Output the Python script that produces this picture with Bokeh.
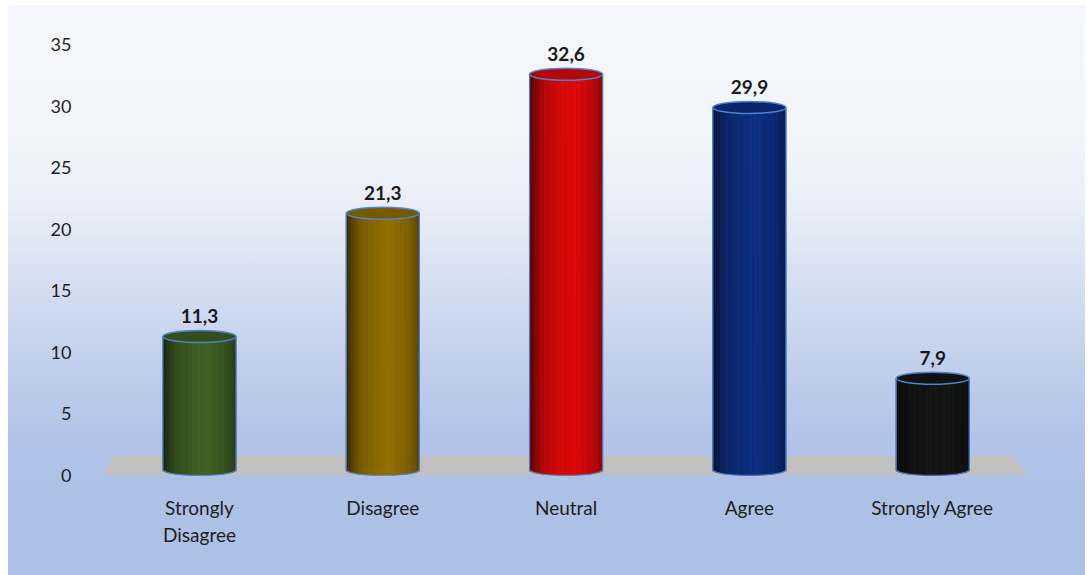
import numpy as np
from bokeh.plotting import figure
from bokeh.models import Range1d, FixedTicker, ColumnDataSource
from bokeh.core.properties import value
from bokeh.embed import file_html
from bokeh.resources import INLINE

# ---------------- data ----------------
categories = ["Strongly\nDisagree", "Disagree", "Neutral", "Agree", "Strongly Agree"]
values = [11.3, 21.3, 32.6, 29.9, 7.9]
bar_colors = ["#3c5c22", "#8c6a00", "#d40808", "#0c2c7c", "#141414"]
y_ticks = [0, 5, 10, 15, 20, 25, 30, 35]

# ---------------- layout constants ----------------
W, H = 1077, 570
BL, BR, BT, BB = 87, 5, 15, 100
frame_w = W - BL - BR
frame_h = H - BT - BB
px_per_x = 183.3
px_per_y = 12.31
x0 = -(199 - 95) / px_per_x
x1 = x0 + frame_w / px_per_x
y1 = frame_h / px_per_y

p = figure(width=W, height=H, output_backend="svg", toolbar_location=None,
           x_range=Range1d(x0, x1), y_range=Range1d(0, y1),
           min_border_left=BL, min_border_right=BR, min_border_top=BT, min_border_bottom=BB,
           margin=(5, 6, 0, 8))
p.background_fill_color = None
p.border_fill_color = None
p.outline_line_color = None
p.styles = {"background": "linear-gradient(to bottom, #f5f7fc 0%, #f3f5fb 22%, #e9eef7 35%, "
                          "#dbe3f2 45%, #ccd8ef 55%, #bfcdeb 65%, #b2c4e8 75%, #adc0e6 85%, #adc0e6 100%)"}
p.grid.visible = False

# axes
p.yaxis.ticker = FixedTicker(ticks=y_ticks)
p.xaxis.ticker = FixedTicker(ticks=list(range(len(categories))))
p.xaxis.major_label_overrides = {i: c for i, c in enumerate(categories)}
for ax in (p.xaxis, p.yaxis):
    ax.axis_line_color = None
    ax.major_tick_line_color = None
    ax.minor_tick_line_color = None
    ax.major_label_text_font = "Lato"
    ax.major_label_text_color = "#1e1e1e"
p.yaxis.major_label_text_font_size = "18px"
p.yaxis.major_label_standoff = 18
p.xaxis.major_label_text_font_size = "19px"
p.xaxis.major_label_standoff = 14
p.xaxis.major_label_text_line_height = 1.2

# floor
n = len(categories)
floor_top = 1.62
p.patch(x=[-0.524, n - 1 + 0.523, n - 1 + 0.435, -0.469], y=[0, 0, floor_top, floor_top],
        fill_color="#c0c0c0", line_color=None)

# cylinders
bw = 73 / px_per_x          # body width in data units
hh = 6 / px_per_y           # half height of ellipse in data units
base_c = hh
NS = 30
prof_u = [0.0, 0.08, 0.2, 0.45, 0.6, 0.85, 0.95, 1.0]
prof_f = [0.35, 0.6, 0.85, 1.0, 1.05, 0.9, 0.75, 0.6]


def shade(hexc, f):
    r, g, b = int(hexc[1:3], 16), int(hexc[3:5], 16), int(hexc[5:7], 16)
    r, g, b = [min(255, int(round(c * f))) for c in (r, g, b)]
    return "#%02x%02x%02x" % (r, g, b)


L, R, T, B, C = [], [], [], [], []
for i, (v, col) in enumerate(zip(values, bar_colors)):
    for k in range(NS):
        u0, u1 = k / NS, (k + 1) / NS
        uc = (u0 + u1) / 2
        t = 2 * uc - 1
        f = float(np.interp(uc, prof_u, prof_f))
        L.append(i - bw / 2 + u0 * bw)
        R.append(i - bw / 2 + u1 * bw)
        T.append(v)
        B.append(base_c - hh * np.sqrt(max(0.0, 1 - t * t)))
        C.append(shade(col, f))
p.quad(left=L, right=R, top=T, bottom=B, fill_color=C, line_color=C, line_width=0.8)

# outlines of sides and bottom
xs, ys = [], []
for i, v in enumerate(values):
    th = np.linspace(np.pi, 2 * np.pi, 40)
    ex = i + (bw / 2) * np.cos(th)
    ey = base_c + hh * np.sin(th)
    xs.append([i - bw / 2] + list(ex) + [i + bw / 2])
    ys.append([v] + list(ey) + [v])
p.multi_line(xs=xs, ys=ys, line_color="#4f80d2", line_width=1.3, line_alpha=0.9)

# top ellipses
src = ColumnDataSource(dict(x=list(range(n)), y=values,
                            c=[shade(c, 0.85) for c in bar_colors],
                            lab=[f"{v:.1f}".replace(".", ",") for v in values]))
p.ellipse(x="x", y="y", width=bw, height=12, height_units="screen",
          fill_color="c", line_color="#4f80d2", line_width=1.5, source=src)

# value labels
p.text(x="x", y="y", text="lab", source=src, text_align="center", text_baseline="bottom",
       y_offset=-13, text_font=value("Lato"), text_font_style="bold", text_font_size="19px",
       text_color="#1a1a1a")

open("out.html", "w").write(file_html(p, INLINE))
